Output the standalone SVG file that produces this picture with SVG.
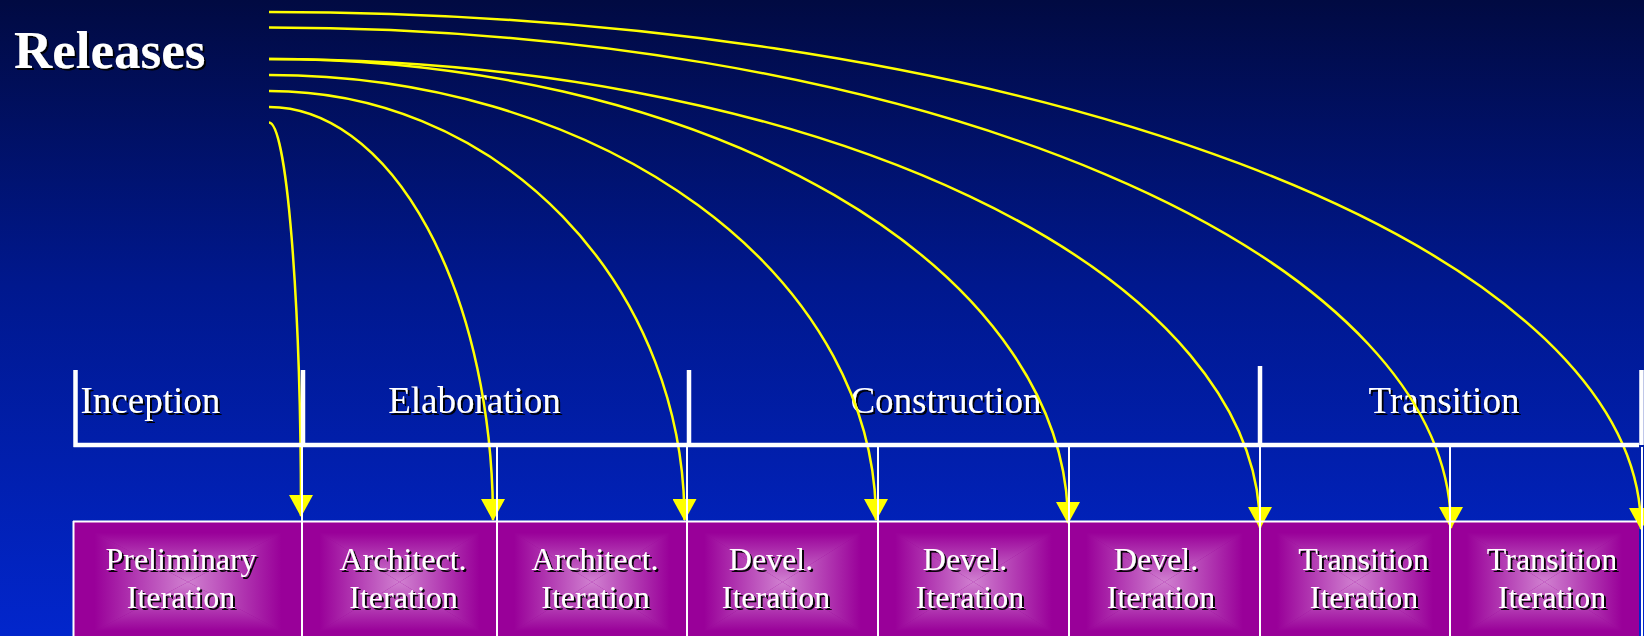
<svg xmlns="http://www.w3.org/2000/svg" xmlns:xlink="http://www.w3.org/1999/xlink" width="1644" height="636" viewBox="0 0 1644 636">
<defs>
  <linearGradient id="bg" x1="0" y1="0" x2="0" y2="1">
    <stop offset="0" stop-color="#010a42"/>
    <stop offset="0.45" stop-color="#00188e"/>
    <stop offset="1" stop-color="#0226cc"/>
  </linearGradient>
  <linearGradient id="gT" x1="0" y1="0" x2="0" y2="1">
    <stop offset="0" stop-color="#990099"/><stop offset="0.18" stop-color="#990099"/><stop offset="1" stop-color="#d080d0"/>
  </linearGradient>
  <linearGradient id="gB" x1="0" y1="1" x2="0" y2="0">
    <stop offset="0" stop-color="#990099"/><stop offset="0.18" stop-color="#990099"/><stop offset="1" stop-color="#d080d0"/>
  </linearGradient>
  <linearGradient id="gL" x1="0" y1="0" x2="1" y2="0">
    <stop offset="0" stop-color="#990099"/><stop offset="0.18" stop-color="#990099"/><stop offset="1" stop-color="#d080d0"/>
  </linearGradient>
  <linearGradient id="gR" x1="1" y1="0" x2="0" y2="0">
    <stop offset="0" stop-color="#990099"/><stop offset="0.18" stop-color="#990099"/><stop offset="1" stop-color="#d080d0"/>
  </linearGradient>
  <symbol id="boxfill" viewBox="0 0 100 100" preserveAspectRatio="none">
    <rect x="0" y="0" width="100" height="100" fill="#990099"/>
    <polygon points="0,0 100,0 50,50" fill="url(#gT)"/>
    <polygon points="0,100 100,100 50,50" fill="url(#gB)"/>
    <polygon points="0,0 0,100 50,50" fill="url(#gL)"/>
    <polygon points="100,0 100,100 50,50" fill="url(#gR)"/>
  </symbol>
  <filter id="shadow" x="-5%" y="-20%" width="115%" height="150%">
    <feDropShadow dx="2" dy="2" stdDeviation="0.4" flood-color="#000" flood-opacity="0.95"/>
  </filter>
  <marker id="ah" markerUnits="userSpaceOnUse" markerWidth="22" markerHeight="24" viewBox="0 0 22 24" refX="21" refY="12" orient="auto">
    <path d="M0,0 L22,12 L0,24 Z" fill="#ffff00"/>
  </marker>
</defs>
<style>
  .lbl{font-family:"Liberation Serif","Times New Roman",serif;fill:#ffffff;filter:url(#shadow)}
  .title{font-size:53px;font-weight:bold}
  .phase{font-size:37px}
  .iter{font-size:32px;text-anchor:middle}
  .rel{stroke:#ffff00;stroke-width:2.5;fill:none;marker-end:url(#ah)}
  .bar{stroke:#ffffff;stroke-width:4.5;fill:none}
  .div{stroke:#ffffff;stroke-width:2;fill:none}
</style>

<rect x="0" y="0" width="1644" height="636" fill="url(#bg)"/>

<g id="releases-title">
  <text class="lbl title" x="14" y="68">Releases</text>
</g>

<g id="phase-inception"><text class="lbl phase" x="80.5" y="413">Inception</text></g>
<g id="phase-elaboration"><text class="lbl phase" x="474.5" y="413" text-anchor="middle">Elaboration</text></g>
<g id="phase-construction"><text class="lbl phase" x="946" y="413" text-anchor="middle">Construction</text></g>
<g id="phase-transition"><text class="lbl phase" x="1444" y="413" text-anchor="middle">Transition</text></g>

<g id="iter-1">
  <use xlink:href="#boxfill" href="#boxfill" x="74" y="522" width="228" height="120"/>
  <text class="lbl iter"><tspan x="181" y="570">Preliminary</tspan><tspan x="181" y="608">Iteration</tspan></text>
</g>
<g id="iter-2">
  <use xlink:href="#boxfill" href="#boxfill" x="302" y="522" width="195" height="120"/>
  <text class="lbl iter"><tspan x="403" y="570">Architect.</tspan><tspan x="403.5" y="608">Iteration</tspan></text>
</g>
<g id="iter-3">
  <use xlink:href="#boxfill" href="#boxfill" x="497" y="522" width="190" height="120"/>
  <text class="lbl iter"><tspan x="595" y="570">Architect.</tspan><tspan x="595.5" y="608">Iteration</tspan></text>
</g>
<g id="iter-4">
  <use xlink:href="#boxfill" href="#boxfill" x="687" y="522" width="191" height="120"/>
  <text class="lbl iter"><tspan x="771" y="570">Devel.</tspan><tspan x="776" y="608">Iteration</tspan></text>
</g>
<g id="iter-5">
  <use xlink:href="#boxfill" href="#boxfill" x="878" y="522" width="191" height="120"/>
  <text class="lbl iter"><tspan x="965" y="570">Devel.</tspan><tspan x="970" y="608">Iteration</tspan></text>
</g>
<g id="iter-6">
  <use xlink:href="#boxfill" href="#boxfill" x="1069" y="522" width="191" height="120"/>
  <text class="lbl iter"><tspan x="1156" y="570">Devel.</tspan><tspan x="1161" y="608">Iteration</tspan></text>
</g>
<g id="iter-7">
  <use xlink:href="#boxfill" href="#boxfill" x="1260" y="522" width="190" height="120"/>
  <text class="lbl iter"><tspan x="1363.5" y="570">Transition</tspan><tspan x="1364" y="608">Iteration</tspan></text>
</g>
<g id="iter-8">
  <use xlink:href="#boxfill" href="#boxfill" x="1450" y="522" width="189" height="120"/>
  <text class="lbl iter"><tspan x="1552" y="570">Transition</tspan><tspan x="1552" y="608">Iteration</tspan></text>
</g>

<g id="connectors">
  <path class="rel" d="M269,122.5 A32,393.5 0 0 1 301,516"/>
  <path class="rel" d="M269,107 A224,413 0 0 1 493,520"/>
  <path class="rel" d="M269,91 A415.5,429 0 0 1 684.5,520"/>
  <path class="rel" d="M269,75 A607,445 0 0 1 876,520"/>
  <path class="rel" d="M269,59 A799,464 0 0 1 1068,523"/>
  <path class="rel" d="M269,59 A991,469 0 0 1 1260,528"/>
  <path class="rel" d="M269,27.5 A1182,500.5 0 0 1 1451,528"/>
  <path class="rel" d="M269,12 A1372,517 0 0 1 1641,529"/>
</g>

<g id="phase-bar">
  <path class="bar" d="M75.5,370 V447 M73.5,445 H1639 M303,370 V445 M689,370 V445 M1260,366 V445 M1641.5,370 V445"/>
</g>

<g id="iteration-grid">
  <path class="div" d="M73,521.5 H1637 M73.5,521 V636 M302,447 V636 M497,447 V636 M687,447 V636 M878,447 V636 M1069,447 V636 M1260,447 V636 M1450,447 V636 M1642,447 V636"/>
</g>
</svg>
